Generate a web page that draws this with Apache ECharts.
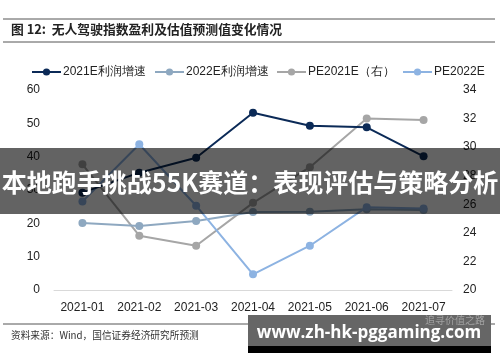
<!DOCTYPE html>
<html><head><meta charset="utf-8">
<script src="https://cdn.jsdelivr.net/npm/echarts@6/dist/echarts.min.js"></script>
<style>html,body{margin:0;padding:0;background:#fff}#c{width:500px;height:362px}</style>
</head><body><div id="c"></div>
<script>
var categories = ['2021-01','2021-02','2021-03','2021-04','2021-05','2021-06','2021-07'];
var profit2021E = [29.2, 35.2, 39.7, 53.2, 49.3, 48.8, 40.1];
var profit2022E = [20.1, 19.2, 20.7, 23.4, 23.5, 24.2, 24.0];
var pe2021E = [28.8, 23.8, 23.1, 26.1, 28.6, 32.0, 31.9];
var pe2022E = [26.2, 30.2, 25.9, 21.1, 23.1, 25.8, 25.7];
var leftTicks = {min: 0, max: 60, interval: 10};
var rightTicks = {min: 20, max: 34, interval: 2};
var seriesNames = ['2021E利润增速','2022E利润增速','PE2021E（右）','PE2022E'];
var titleText = '图 12:  无人驾驶指数盈利及估值预测值变化情况';
var sourceText = '资料来源：Wind，国信证券经济研究所预测';
var bannerText = '本地跑手挑战55K赛道：表现评估与策略分析';
var watermarkText = 'www.zh-hk-pggaming.com';

var colors = ['#0b2a57', '#8ea8c0', '#a6a6a6', '#8db3e2'];
var legendLeft = [26, 149, 271, 397];
var font = 'Liberation Sans, Arial, sans-serif';
var chart = echarts.init(document.getElementById('c'), null, {renderer: 'canvas'});
function mk(name, data, color, yIdx, z) {
  return {name: name, type: 'line', data: data, yAxisIndex: yIdx, color: color,
    symbol: 'circle', symbolSize: 8, lineStyle: {width: 2, color: color},
    itemStyle: {color: color}, z: z, animation: false};
}
chart.setOption({
  animation: false,
  grid: {left: 54, right: 48, top: 90, bottom: 72},
  legend: seriesNames.map(function(n, i){
    return {top: 61, left: legendLeft[i], itemWidth: 29, itemHeight: 9, itemGap: 0,
      textStyle: {fontSize: 12, color: '#222', fontFamily: font, padding: [0,0,0,-3]},
      data: [n]};
  }),
  xAxis: {type: 'category', data: categories, boundaryGap: true,
    axisLine: {lineStyle: {color: '#d9d9d9', width: 1}}, axisTick: {show: false},
    axisLabel: {fontSize: 12, color: '#222', margin: 12, interval: 0, fontFamily: font}},
  yAxis: [
    {type: 'value', min: leftTicks.min, max: leftTicks.max, interval: leftTicks.interval,
     splitLine: {show: false}, axisLine: {show: false}, axisTick: {show: false},
     axisLabel: {fontSize: 12, color: '#222', margin: 14, fontFamily: font}},
    {type: 'value', min: rightTicks.min, max: rightTicks.max, interval: rightTicks.interval,
     splitLine: {show: false}, axisLine: {show: false}, axisTick: {show: false},
     axisLabel: {fontSize: 12, color: '#222', margin: 11, fontFamily: font}}
  ],
  series: [
    mk(seriesNames[0], profit2021E, colors[0], 0, 5),
    mk(seriesNames[1], profit2022E, colors[1], 0, 3),
    mk(seriesNames[2], pe2021E, colors[2], 1, 2),
    mk(seriesNames[3], pe2022E, colors[3], 1, 4)
  ],
  graphic: [
    {type: 'line', shape: {x1: 3, y1: 19, x2: 495, y2: 19}, style: {stroke: '#555', lineWidth: 1}},
    {type: 'line', shape: {x1: 3, y1: 42, x2: 495, y2: 42}, style: {stroke: '#555', lineWidth: 1}},
    {type: 'text', left: 11, top: 23, style: {text: titleText, font: 'bold 12.8px "Noto Sans CJK SC", sans-serif', fill: '#222'}},
    {type: 'line', shape: {x1: 3, y1: 324, x2: 495, y2: 324}, style: {stroke: '#555', lineWidth: 1}},
    {type: 'text', left: 11, top: 330, style: {text: sourceText, font: '9.7px "Noto Sans CJK SC", sans-serif', fill: '#333'}},
    {type: 'rect', shape: {x: 0, y: 148, width: 500, height: 66}, style: {fill: 'rgba(0,0,0,0.61)'}, z: 100},
    {type: 'text', x: 250, y: 182, style: {text: bannerText, font: 'bold 25px "Noto Sans CJK SC", sans-serif', fill: '#fff', textAlign: 'center', textVerticalAlign: 'middle'}, z: 101},
    {type: 'rect', shape: {x: 248, y: 315, width: 243, height: 31}, style: {fill: '#666'}, z: 100},
    {type: 'rect', shape: {x: 248, y: 346, width: 243, height: 7}, style: {fill: '#000'}, z: 100},
    {type: 'text', x: 455, y: 320, style: {text: '追寻价值之路', font: '10px "Noto Sans CJK SC", sans-serif', fill: 'rgba(200,200,200,0.6)', textAlign: 'center', textVerticalAlign: 'middle'}, z: 101},
    {type: 'text', x: 369, y: 333, style: {text: watermarkText, font: 'bold 17px "Open Sans", "DejaVu Sans", sans-serif', fill: '#fff', textAlign: 'center', textVerticalAlign: 'middle'}, z: 102}
  ]
});
</script></body></html>
